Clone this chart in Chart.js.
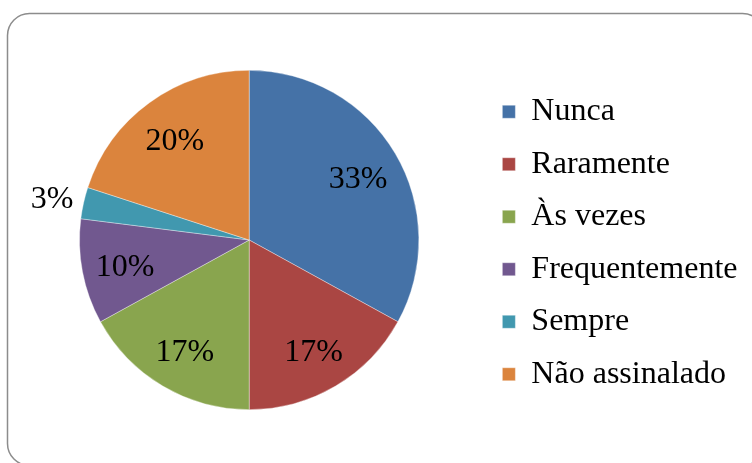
<!DOCTYPE html>
<html>
<head>
<meta charset="utf-8">
<script src="https://cdn.jsdelivr.net/npm/chart.js@4/dist/chart.umd.min.js"></script>
<style>
  html, body { margin: 0; padding: 0; background: #fff; }
  #wrap { position: relative; width: 752px; height: 463px; }
</style>
</head>
<body>
<div id="wrap"><canvas id="c" width="752" height="463"></canvas></div>
<script>
const categories = ["Nunca", "Raramente", "Às vezes", "Frequentemente", "Sempre", "Não assinalado"];
const values = [33, 17, 17, 10, 3, 20];
const valueLabels = ["33%", "17%", "17%", "10%", "3%", "20%"];
const colors = ["#4572A7", "#AA4643", "#89A54E", "#71588F", "#4198AF", "#DB843D"];

const FONT = "'Liberation Serif', 'Times New Roman', serif";

const frame = {
  id: 'frame',
  beforeDraw(chart) {
    const ctx = chart.ctx;
    ctx.save();
    ctx.fillStyle = '#fff';
    ctx.fillRect(0, 0, chart.width, chart.height);
    const x = 7.5, y = 13.5, w = 757, h = 452, r = 22;
    ctx.beginPath();
    ctx.moveTo(x + r, y);
    ctx.lineTo(x + w - r, y);
    ctx.arcTo(x + w, y, x + w, y + r, r);
    ctx.lineTo(x + w, y + h - r);
    ctx.arcTo(x + w, y + h, x + w - r, y + h, r);
    ctx.lineTo(x + r, y + h);
    ctx.arcTo(x, y + h, x, y + h - r, r);
    ctx.lineTo(x, y + r);
    ctx.arcTo(x, y, x + r, y, r);
    ctx.closePath();
    ctx.strokeStyle = '#8c8c8c';
    ctx.lineWidth = 1.5;
    ctx.stroke();
    ctx.restore();
  }
};

const legendNudge = {
  id: 'legendNudge',
  afterLayout(chart) {
    const lg = chart.legend;
    if (lg) {
      lg.top += 3;
      lg.bottom += 3;
      lg.left += 2;
      lg.right += 2;
    }
  }
};

const sliceLabels = {
  id: 'sliceLabels',
  afterDatasetsDraw(chart) {
    const ctx = chart.ctx;
    const meta = chart.getDatasetMeta(0);
    ctx.save();
    ctx.font = "32px " + FONT;
    ctx.fillStyle = '#000';
    ctx.textAlign = 'center';
    ctx.textBaseline = 'middle';
    meta.data.forEach((arc, i) => {
      const p = arc.getProps(['x', 'y', 'startAngle', 'endAngle', 'outerRadius'], true);
      const mid = (p.startAngle + p.endAngle) / 2;
      const f = values[i] < 5 ? 1.19 : 0.745;
      const d = p.outerRadius * f;
      ctx.fillText(valueLabels[i], p.x + Math.cos(mid) * d, p.y + Math.sin(mid) * d + 4);
    });
    ctx.restore();
  }
};

new Chart(document.getElementById('c'), {
  type: 'pie',
  data: {
    labels: categories,
    datasets: [{
      data: values,
      backgroundColor: colors,
      borderColor: 'rgba(255,255,255,0.6)',
      borderWidth: 0.6
    }]
  },
  options: {
    responsive: false,
    animation: false,
    layout: { padding: { left: 18.5, top: 70, bottom: 53, right: 6.5 } },
    plugins: {
      tooltip: { enabled: false },
      legend: {
        position: 'right',
        align: 'center',
        labels: {
          font: { family: FONT, size: 32 },
          color: '#000',
          boxWidth: 13,
          boxHeight: 13,
          padding: 20.5
        }
      }
    }
  },
  plugins: [frame, legendNudge, sliceLabels]
});
</script>
</body>
</html>
